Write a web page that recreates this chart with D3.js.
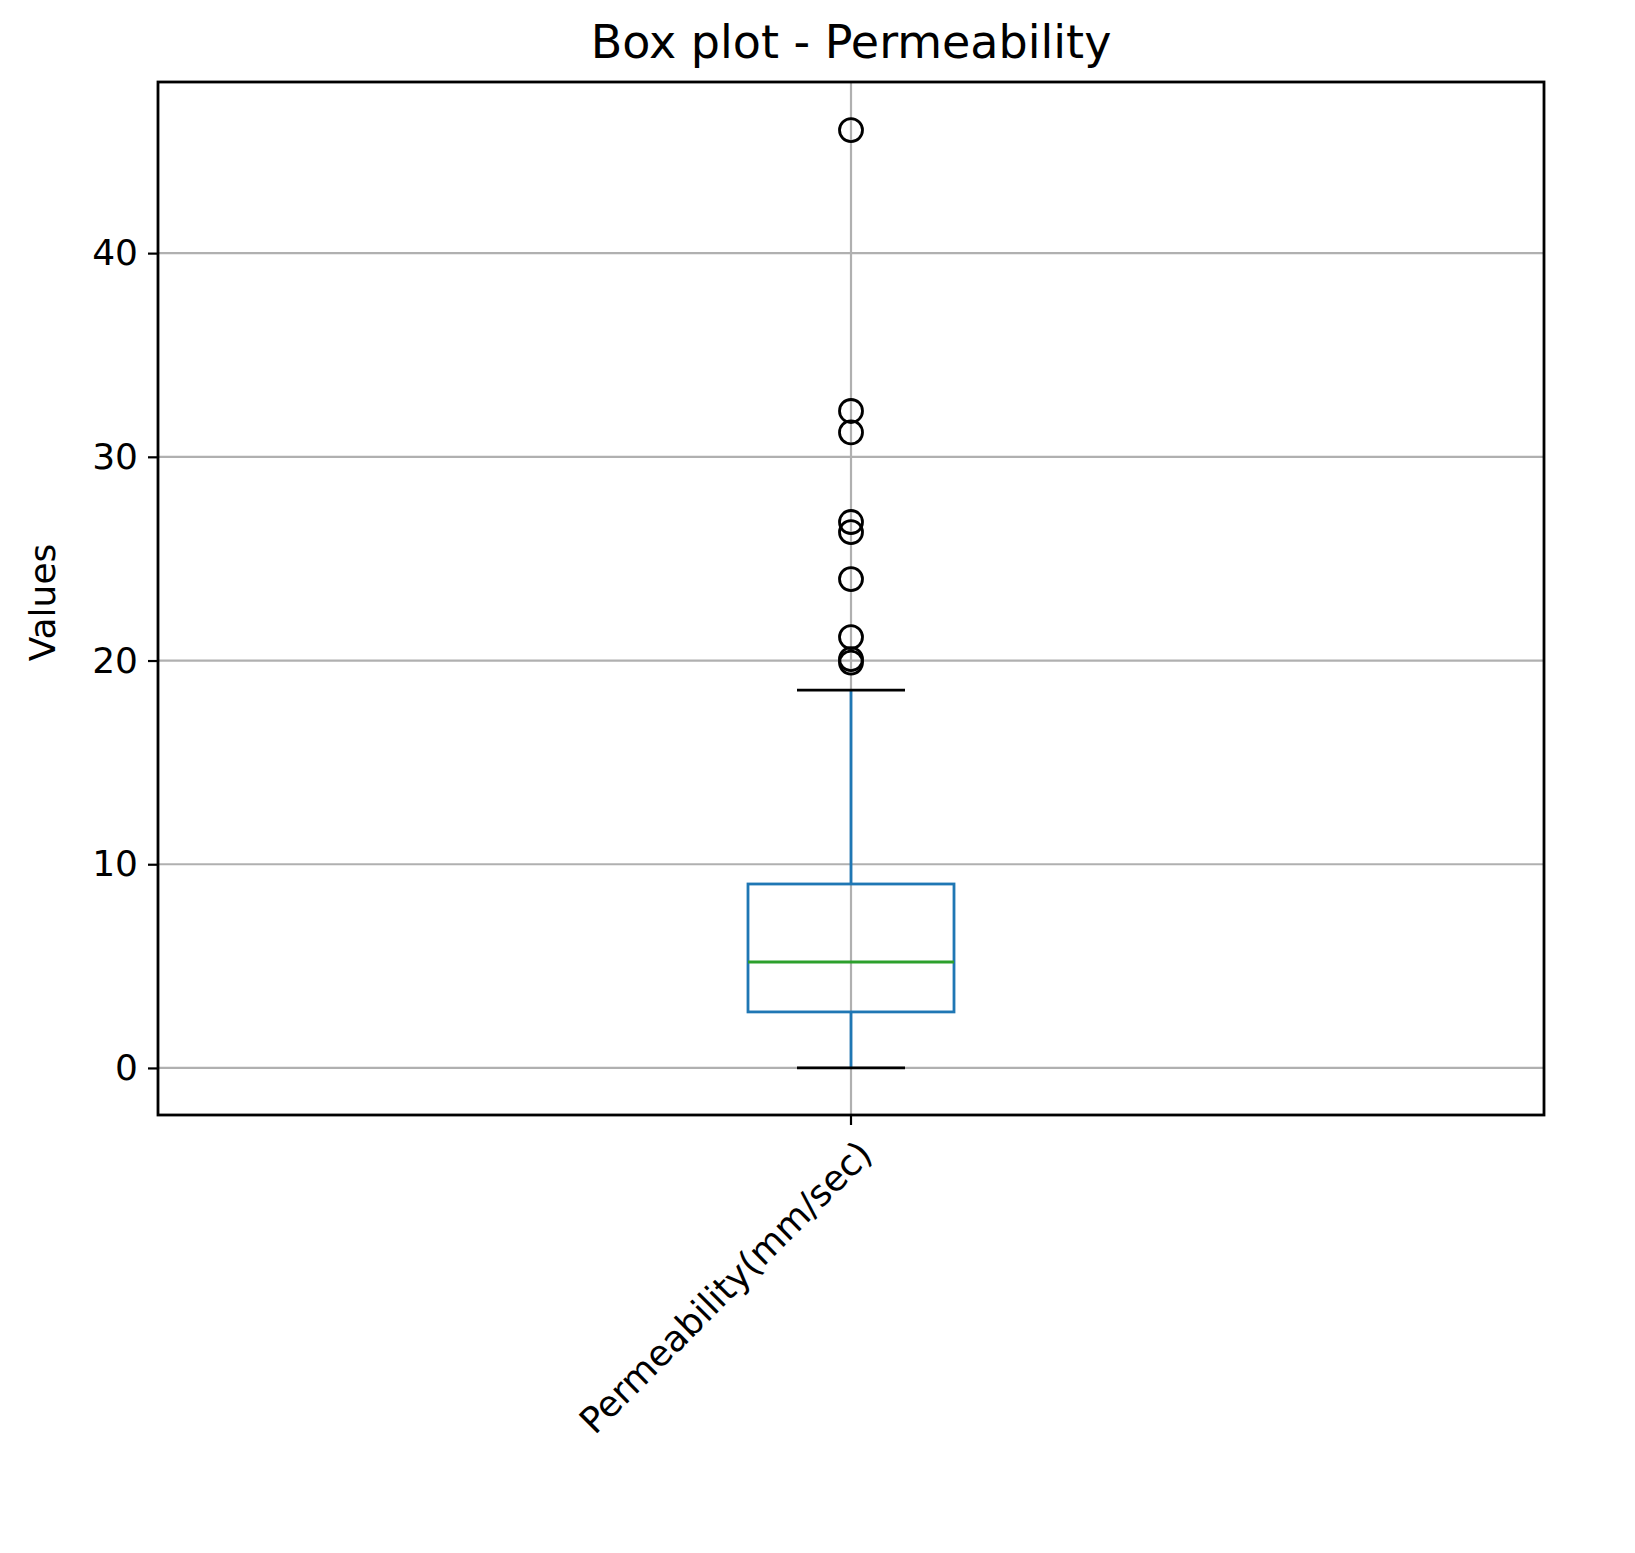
<!DOCTYPE html><html><head><meta charset="utf-8"><script src="https://cdn.jsdelivr.net/npm/d3@7"></script>
<style>body{margin:0;background:#fff}</style></head><body><svg id="c" width="1635" height="1553"></svg>
<script>
const categories=["Permeability(mm/sec)"];
const stats={q1:2.75,median:5.2,q3:9.03,low:0,high:18.55};
const outliers=[46.04,32.25,31.2,26.8,26.3,24.0,21.15,20.07,19.9];
const yTicks=[0,10,20,30,40];
const svg=d3.select("#c");
const L=158,R=1544,T=82,B=1115;
const y=d3.scaleLinear().domain([-2.31,48.4]).range([B,T]);
const x=d3.scaleBand().domain(categories).range([L,R]);
const cx=x(categories[0])+x.bandwidth()/2;
const font="DejaVu Sans";
svg.selectAll(".gy").data(yTicks).join("line").attr("x1",L).attr("x2",R).attr("y1",d=>y(d)).attr("y2",d=>y(d)).attr("stroke","#b0b0b0").attr("stroke-width",2.2);
svg.append("line").attr("x1",cx).attr("x2",cx).attr("y1",T).attr("y2",B).attr("stroke","#b0b0b0").attr("stroke-width",2.2);
const ya=svg.append("g").attr("transform",`translate(${L},0)`).call(d3.axisLeft(y).tickValues(yTicks).tickSize(10).tickPadding(10));
ya.select(".domain").remove();
ya.selectAll("text").attr("font-family",font).attr("font-size",36).attr("fill","#000");
ya.selectAll("line").attr("stroke","#000").attr("stroke-width",2.2);
const xa=svg.append("g").attr("transform",`translate(0,${B})`).call(d3.axisBottom(x).tickSize(10));
xa.select(".domain").remove();
xa.selectAll("line").attr("stroke","#000").attr("stroke-width",2.2);
xa.selectAll("text").attr("font-family",font).attr("font-size",36).attr("fill","#000")
 .attr("text-anchor","end").attr("dy",0).attr("transform","translate(14,32) rotate(-45)");
const blue="#1f77b4";
const bw=206,cw=108;
svg.append("line").attr("x1",cx).attr("x2",cx).attr("y1",y(stats.q3)).attr("y2",y(stats.high)).attr("stroke",blue).attr("stroke-width",2.8);
svg.append("line").attr("x1",cx).attr("x2",cx).attr("y1",y(stats.q1)).attr("y2",y(stats.low)).attr("stroke",blue).attr("stroke-width",2.8);
[stats.low,stats.high].forEach(v=>svg.append("line").attr("x1",cx-cw/2).attr("x2",cx+cw/2).attr("y1",y(v)).attr("y2",y(v)).attr("stroke","#000").attr("stroke-width",2.8));
svg.append("rect").attr("x",cx-bw/2).attr("width",bw).attr("y",y(stats.q3)).attr("height",y(stats.q1)-y(stats.q3)).attr("fill","none").attr("stroke",blue).attr("stroke-width",2.8);
svg.append("line").attr("x1",cx-bw/2).attr("x2",cx+bw/2).attr("y1",y(stats.median)).attr("y2",y(stats.median)).attr("stroke","#2ca02c").attr("stroke-width",2.8);
svg.selectAll(".o").data(outliers).join("circle").attr("cx",cx).attr("cy",d=>y(d)).attr("r",11.5).attr("fill","none").attr("stroke","#000").attr("stroke-width",2.8);
svg.append("rect").attr("x",L).attr("y",T).attr("width",R-L).attr("height",B-T).attr("fill","none").attr("stroke","#000").attr("stroke-width",2.8);
svg.append("text").attr("x",(L+R)/2).attr("y",58).attr("text-anchor","middle").attr("font-family",font).attr("font-size",46).text("Box plot - Permeability");
svg.append("text").attr("transform",`translate(55,${(T+B)/2+4}) rotate(-90)`).attr("text-anchor","middle").attr("font-family",font).attr("font-size",36).text("Values");
</script></body></html>
